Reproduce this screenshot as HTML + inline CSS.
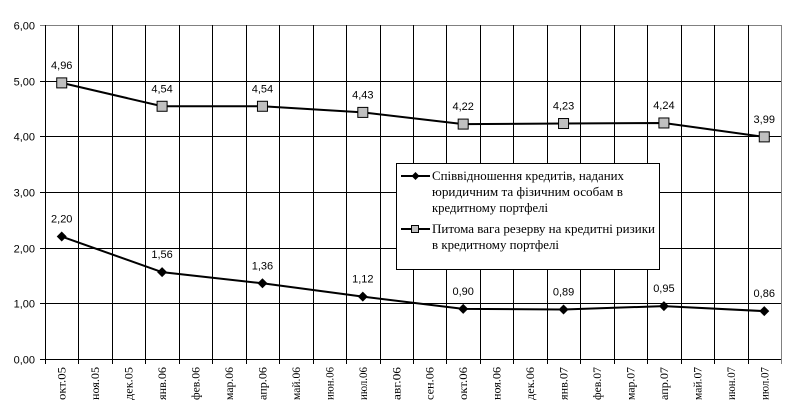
<!DOCTYPE html>
<html><head><meta charset="utf-8"><style>
html,body{margin:0;padding:0;background:#fff;}
svg{display:block;}
</style></head><body>
<svg width="796" height="420" viewBox="0 0 796 420" xmlns="http://www.w3.org/2000/svg">
<rect width="796" height="420" fill="#fff"/>
<g id="grid" stroke="#000" stroke-width="1"></g>
<g id="data"></g>
<g font-family="'Liberation Serif', 'DejaVu Serif', serif" font-size="13" fill="#000">
<rect x="396.5" y="163.5" width="263" height="106" fill="#fff" stroke="#000"/>
<line x1="401" y1="176" x2="430" y2="176" stroke="#000" stroke-width="2"/>
<polygon points="415.5,172 419.5,176 415.5,180 411.5,176" fill="#000"/>
<text x="432" y="180" textLength="192" lengthAdjust="spacingAndGlyphs">Співвідношення кредитів, наданих</text>
<text x="432" y="196" textLength="191" lengthAdjust="spacingAndGlyphs">юридичним та фізичним особам в</text>
<text x="432" y="212" textLength="116" lengthAdjust="spacingAndGlyphs">кредитному портфелі</text>
<line x1="401" y1="229" x2="430" y2="229" stroke="#000" stroke-width="2"/>
<rect x="411.5" y="225.5" width="7" height="7" fill="#c0c0c0" stroke="#000"/>
<text x="432" y="233" textLength="223" lengthAdjust="spacingAndGlyphs">Питома вага резерву на кредитні ризики</text>
<text x="432" y="249" textLength="127" lengthAdjust="spacingAndGlyphs">в кредитному портфелі</text>
</g>
<script>
var g=document.getElementById('grid'),d=document.getElementById('data'),NS='http://www.w3.org/2000/svg';
function el(p,t,a,txt){var e=document.createElementNS(NS,t);for(var k in a)e.setAttribute(k,a[k]);if(txt)e.textContent=txt;p.appendChild(e);return e;}
var SANS="'Liberation Sans', sans-serif",SERIF="'Liberation Serif', serif";
var L=45,R=781,T=25,B=359,W=(R-L)/22;
function Y(v){return B-(B-T)*v/6;}
for(var i=0;i<=6;i++){var y=Math.round(Y(i))+0.5;
 el(g,'line',{x1:40,x2:R,y1:y,y2:y,stroke:i==6?'#808080':'#000'});
 el(g,'text',{x:35,y:y+4,'text-anchor':'end','font-family':SANS,'font-size':11,fill:'#000',stroke:'none'},i+',00');}
var m=['окт.05','ноя.05','дек.05','янв.06','фев.06','мар.06','апр.06','май.06','июн.06','июл.06','авг.06','сен.06','окт.06','ноя.06','дек.06','янв.07','фев.07','мар.07','апр.07','май.07','июн.07','июл.07'];
for(var i=0;i<=22;i++){var x=Math.round(L+i*W)+0.5;
 el(g,'line',{x1:x,x2:x,y1:T,y2:B+5,stroke:i==22?'#808080':'#000'});}
for(var i=0;i<22;i++){var cx=L+(i+0.5)*W;
 el(g,'text',{'font-family':SERIF,'font-size':12,fill:'#000',stroke:'none','text-anchor':'end',textLength:33,lengthAdjust:'spacingAndGlyphs',transform:'translate('+(cx+4)+',367) rotate(-90)'},m[i]);}
var s1=[2.20,1.56,1.36,1.12,0.90,0.89,0.95,0.86],s2=[4.96,4.54,4.54,4.43,4.22,4.23,4.24,3.99];
function pts(s){return s.map(function(v,k){return (L+(3*k+0.5)*W)+','+Y(v);}).join(' ');}
el(d,'polyline',{points:pts(s2),fill:'none',stroke:'#000','stroke-width':2});
el(d,'polyline',{points:pts(s1),fill:'none',stroke:'#000','stroke-width':2});
s2.forEach(function(v,k){var x=L+(3*k+0.5)*W,y=Y(v);
 el(d,'rect',{x:x-5,y:y-5,width:10,height:10,fill:'#c0c0c0',stroke:'#000'});
 el(d,'text',{x:x,y:y-14,'text-anchor':'middle','font-family':SANS,'font-size':11,fill:'#000'},v.toFixed(2).replace('.',','));});
s1.forEach(function(v,k){var x=L+(3*k+0.5)*W,y=Y(v);
 el(d,'polygon',{points:(x)+','+(y-5)+' '+(x+5)+','+y+' '+x+','+(y+5)+' '+(x-5)+','+y,fill:'#000'});
 el(d,'text',{x:x,y:y-14,'text-anchor':'middle','font-family':SANS,'font-size':11,fill:'#000'},v.toFixed(2).replace('.',','));});
</script>
</svg>
</body></html>
